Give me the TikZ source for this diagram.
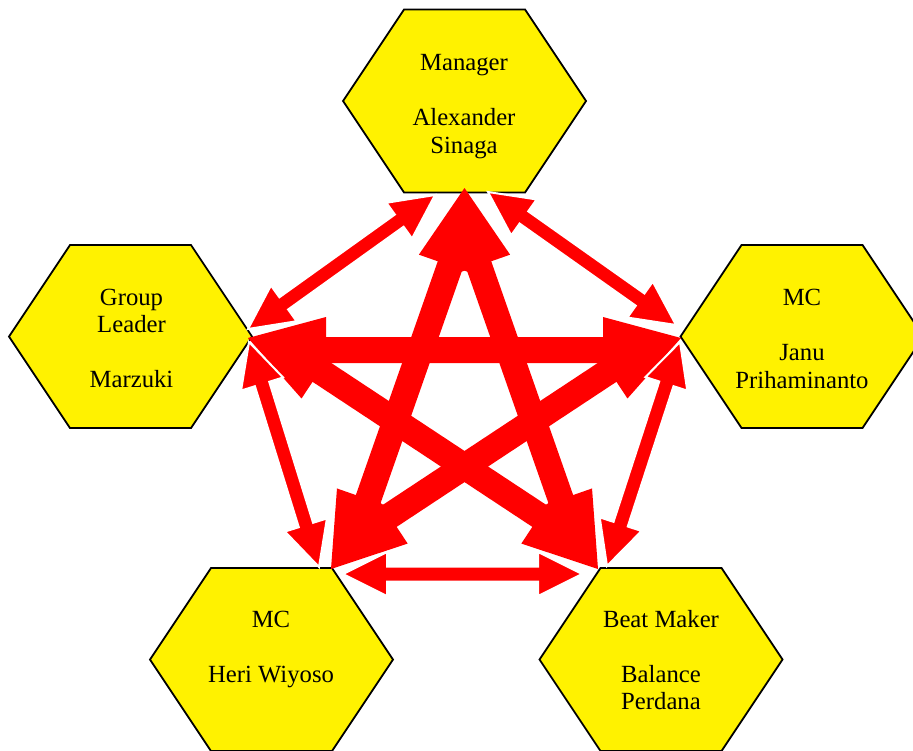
\documentclass[tikz,border=0pt]{standalone}
\usepackage{fontspec}
\setmainfont{Liberation Serif}
\usetikzlibrary{calc}
\tikzset{
  hexbox/.style={fill=yellow, draw=black, line width=1.8pt, line join=miter},
  hextext/.style={align=center, inner sep=0pt, font=\fontsize{24.7}{27.5}\selectfont},
  starsquare/.style={fill=red},
  ringarrow/.style={fill=red, draw=white, line width=2pt, line join=miter},
}
% hexagon around a named centre
\newcommand\hexaround[1]{%
  \draw[hexbox] ($(#1)+(-121.5,0)$) -- ($(#1)+(-60.5,-91.5)$) -- ($(#1)+(60.5,-91.5)$)
    -- ($(#1)+(121.5,0)$) -- ($(#1)+(60.5,91.5)$) -- ($(#1)+(-60.5,91.5)$) -- cycle;}
% double block arrow: #1 tip A, #2 tip B, #3 side angle, #4 shaft offset,
% #5 half shaft width, #6 head length, #7 half head width, #8 style
\newcommand\mkarrow[8]{%
  \coordinate (ma) at ($(#1)!#6!(#2)$);
  \coordinate (mb) at ($(#2)!#6!(#1)$);
  \coordinate (ca) at ($(ma)!#4!#3:(#2)$);
  \coordinate (cb) at ($(mb)+(ca)-(ma)$);
  \path[#8] (#1)
    -- ($(ca)!#7!90:(cb)$) -- ($(ca)!#5!90:(cb)$)
    -- ($(cb)!#5!-90:(ca)$) -- ($(cb)!#7!-90:(ca)$)
    -- (#2)
    -- ($(cb)!#7!90:(ca)$) -- ($(cb)!#5!90:(ca)$)
    -- ($(ca)!#5!-90:(cb)$) -- ($(ca)!#7!-90:(cb)$)
    -- cycle;}
\begin{document}
\begin{tikzpicture}[x=1pt,y=-1pt]
\useasboundingbox (0,0) rectangle (913,750);
\clip (0,0) rectangle (913,750);
% hexagon centres
\coordinate (cT) at (464.5,101);
\coordinate (cL) at (130.5,336.5);
\coordinate (cR) at (802,336.5);
\coordinate (cBL) at (271.5,659.5);
\coordinate (cBR) at (661,659.5);
\foreach \c in {cT,cL,cR,cBL,cBR} {\hexaround{\c}}
% star tips
\coordinate (sT) at (464.5,188);
\coordinate (sL) at (248,338);
\coordinate (sR) at (681,338);
\coordinate (sBL) at (331,569);
\coordinate (sBR) at (598,569);
\mkarrow{sT}{sBL}{90}{12pt}{13pt}{78pt}{33pt}{starsquare}
\mkarrow{sT}{sBR}{270}{12pt}{13pt}{78pt}{33pt}{starsquare}
\mkarrow{sL}{sR}{270}{12pt}{13pt}{78pt}{33pt}{starsquare}
\mkarrow{sL}{sBR}{90}{12pt}{13pt}{78pt}{33pt}{starsquare}
\mkarrow{sR}{sBL}{270}{12pt}{13pt}{78pt}{33pt}{starsquare}
% ring tips
\coordinate (pTL1) at (435,195);
\coordinate (pTL2) at (248,329);
\coordinate (pTR1) at (488,192);
\coordinate (pTR2) at (676,325);
\coordinate (pLB1) at (249,342);
\coordinate (pLB2) at (319,567);
\coordinate (pRB1) at (680,342);
\coordinate (pRB2) at (607,566);
\coordinate (pBB1) at (343,574);
\coordinate (pBB2) at (582,574);
\mkarrow{pTL1}{pTL2}{90}{0pt}{7.5pt}{44pt}{22pt}{ringarrow}
\mkarrow{pTR1}{pTR2}{90}{0pt}{7.5pt}{44pt}{22pt}{ringarrow}
\mkarrow{pLB1}{pLB2}{90}{0pt}{7.5pt}{44pt}{22pt}{ringarrow}
\mkarrow{pRB1}{pRB2}{90}{0pt}{7.5pt}{44pt}{22pt}{ringarrow}
\mkarrow{pBB1}{pBB2}{90}{0pt}{7.5pt}{44pt}{22pt}{ringarrow}
% texts
\node[hextext] (tT) at (464,106.5) {Manager\\[27.5pt]Alexander\\Sinaga};
\node[hextext] (tL) at (131.5,338.5) {Group\\Leader\\[27.5pt]Marzuki};
\node[hextext] (tR) at (802,339) {MC\\[27.5pt]Janu\\Prihaminanto};
\node[hextext] (tBL) at (271,649) {MC\\[27.5pt]Heri Wiyoso};
\node[hextext] (tBR) at (661,660) {Beat Maker\\[27.5pt]Balance\\Perdana};
\end{tikzpicture}
\end{document}
